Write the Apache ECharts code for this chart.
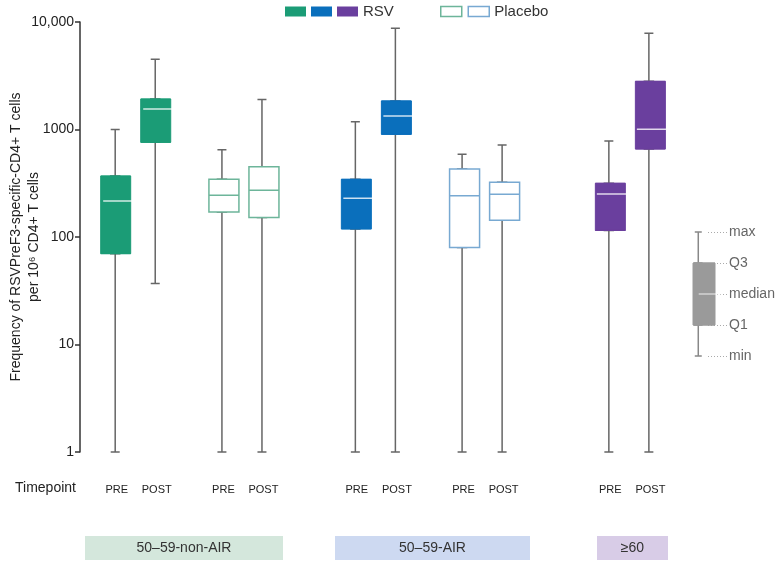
<!DOCTYPE html>
<html>
<head>
<meta charset="utf-8">
<script src="https://cdn.jsdelivr.net/npm/echarts@6/dist/echarts.min.js"></script>
<style>
html,body{margin:0;padding:0;background:#fff;}
#chart{width:779px;height:563px;}
</style>
</head>
<body>
<div id="chart"></div>
<script>
// ---- data ----
const timepointLabels = ['PRE', 'POST', 'PRE', 'POST', 'PRE', 'POST', 'PRE', 'POST', 'PRE', 'POST'];
const slotIndex = [5, 11, 21, 27, 41, 47, 57, 63, 79, 85];
const slotCount = 86;
const yTicks = [1, 10, 100, 1000, 10000];
const groupNames = ['50–59-non-AIR', '50–59-AIR', '≥60'];
const keyLabels = ['min', 'Q1', 'median', 'Q3', 'max'];

// [min, Q1, median, Q3, max]
const nonAirRsvPre = [1, 70, 216, 369, 1000];
const nonAirRsvPost = [37, 760, 1550, 1920, 4500];
const nonAirPlaPre = [1, 171, 244, 344, 649];
const nonAirPlaPost = [1, 152, 272, 451, 1900];
const airRsvPre = [1, 119, 229, 344, 1183];
const airRsvPost = [1, 902, 1336, 1842, 8740];
const airPlaPre = [1, 80, 242, 429, 588];
const airPlaPost = [1, 143, 250, 323, 718];
const oldRsvPre = [1, 115, 251, 316, 782];
const oldRsvPost = [1, 659, 1005, 2806, 7850];
const keyStats = [0, 1, 2, 3, 4];

const allStats = [nonAirRsvPre, nonAirRsvPost, nonAirPlaPre, nonAirPlaPost,
  airRsvPre, airRsvPost, airPlaPre, airPlaPost, oldRsvPre, oldRsvPost];

// ---- styling ----
const C_GREEN = '#1b9c76', C_BLUE = '#0a6fbc', C_PURPLE = '#6a3f9e';
const C_GREEN_L = '#6db59a', C_BLUE_L = '#78a9d2';
const WHISKER = '#666';

const categories = new Array(slotCount).fill('');
slotIndex.forEach((s, i) => { categories[s] = timepointLabels[i]; });

function boxItem(i) { const s = allStats[i]; return [slotIndex[i], s[1], s[1], s[2], s[3], s[3]]; }
function whiskerItem(i) { return [slotIndex[i]].concat(allStats[i]); }
function medianItem(i) { const m = allStats[i][2]; return [slotIndex[i], m, m, m, m, m]; }

const enc = { x: 0, y: [1, 2, 3, 4, 5] };
const boxGroups = [
  { name: 'RSV 50–59-non-AIR', idx: [0, 1], fill: C_GREEN, border: C_GREEN, filled: true },
  { name: 'RSV 50–59-AIR', idx: [4, 5], fill: C_BLUE, border: C_BLUE, filled: true },
  { name: 'RSV ≥60', idx: [8, 9], fill: C_PURPLE, border: C_PURPLE, filled: true },
  { name: 'Placebo 50–59-non-AIR', idx: [2, 3], fill: '#fff', border: C_GREEN_L, filled: false },
  { name: 'Placebo 50–59-AIR', idx: [6, 7], fill: '#fff', border: C_BLUE_L, filled: false }
];

const series = [];
series.push({
  name: 'whiskers', type: 'boxplot', xAxisIndex: 0, yAxisIndex: 0,
  boxWidth: [9, 9], encode: enc,
  itemStyle: { color: '#fff', borderColor: WHISKER, borderWidth: 1.5 },
  data: allStats.map((_, i) => whiskerItem(i)), z: 2, silent: true
});
boxGroups.forEach(g => {
  series.push({
    name: g.name, type: 'boxplot', xAxisIndex: 0, yAxisIndex: 0,
    boxWidth: [30, 30], encode: enc,
    itemStyle: { color: g.fill, borderColor: g.border, borderWidth: g.filled ? 1 : 1.5 },
    data: g.idx.map(boxItem), z: 3, silent: true
  });
});
series.push({
  name: 'medians', type: 'boxplot', xAxisIndex: 0, yAxisIndex: 0,
  boxWidth: [30, 30], encode: enc,
  itemStyle: { color: 'rgba(255,255,255,0.8)', borderColor: 'rgba(255,255,255,0.8)', borderWidth: 1.5 },
  data: [0, 1, 4, 5, 8, 9].map(medianItem), z: 4, silent: true
});
// key
series.push({
  name: 'keyWhisker', type: 'boxplot', xAxisIndex: 1, yAxisIndex: 1,
  boxWidth: [7, 7], encode: enc,
  itemStyle: { color: '#fff', borderColor: '#888', borderWidth: 1.5 },
  data: [[0].concat(keyStats)], z: 2, silent: true
});
series.push({
  name: 'keyBox', type: 'boxplot', xAxisIndex: 1, yAxisIndex: 1,
  boxWidth: [22, 22], encode: enc,
  itemStyle: { color: '#9a9a9a', borderColor: '#9a9a9a', borderWidth: 1 },
  data: [[0, keyStats[1], keyStats[1], keyStats[2], keyStats[3], keyStats[3]]], z: 3, silent: true
});
series.push({
  name: 'keyMedian', type: 'boxplot', xAxisIndex: 1, yAxisIndex: 1,
  boxWidth: [22, 22], encode: enc,
  itemStyle: { color: '#fff', borderColor: 'rgba(255,255,255,0.85)', borderWidth: 1.2 },
  data: [[0, 2, 2, 2, 2, 2]], z: 4, silent: true
});
// dotted key guides (no marks)
series.push({
  name: 'keyGuide', type: 'line', xAxisIndex: 2, yAxisIndex: 2, data: [], silent: true
});

const FONT = 'Liberation Sans, Arial, sans-serif';
const chart = echarts.init(document.getElementById('chart'), null, { renderer: 'canvas' });
chart.setOption({
  animation: false,
  textStyle: { fontFamily: FONT },
  legend: [
    {
      left: 285, top: 4, padding: 0, itemWidth: 21, itemHeight: 10, itemGap: 5, icon: 'rect',
      selectedMode: false,
      textStyle: { fontSize: 15, color: '#333', fontFamily: FONT },
      formatter: n => (n === 'RSV ≥60' ? 'RSV' : ''),
      data: boxGroups.slice(0, 3).map(g => ({ name: g.name, itemStyle: { color: g.fill, borderWidth: 0 } }))
    },
    {
      left: 440, top: 4, padding: 0, itemWidth: 21, itemHeight: 10, itemGap: 5, icon: 'rect',
      selectedMode: false,
      textStyle: { fontSize: 15, color: '#333', fontFamily: FONT },
      formatter: n => (n === 'Placebo 50–59-AIR' ? 'Placebo' : ''),
      data: boxGroups.slice(3).map(g => ({ name: g.name, itemStyle: { color: '#fff', borderColor: g.border, borderWidth: 1.5 } }))
    }
  ],
  grid: [
    { left: 80, top: 22, width: slotCount * 6.671, height: 430, containLabel: false, outerBoundsMode: 'none' },
    { left: 693, top: 232, width: 22, height: 124, containLabel: false, outerBoundsMode: 'none' },
    { left: 708, top: 232, width: 19, height: 124, containLabel: false, outerBoundsMode: 'none' }
  ],
  xAxis: [
    {
      type: 'category', gridIndex: 0, data: categories,
      axisLine: { show: false }, axisTick: { show: false }, splitLine: { show: false },
      axisLabel: { interval: 0, margin: 32, fontSize: 11, color: '#222', fontFamily: FONT }
    },
    { type: 'category', gridIndex: 1, data: ['key'], show: false },
    { type: 'category', gridIndex: 2, data: ['key'], show: false }
  ],
  yAxis: [
    {
      type: 'log', logBase: 10, gridIndex: 0, min: yTicks[0], max: yTicks[yTicks.length - 1],
      axisLine: { show: true, lineStyle: { color: '#333', width: 1.5 } },
      axisTick: { show: true, length: 5, lineStyle: { color: '#333', width: 1.5 } },
      splitLine: { show: false }, minorTick: { show: false },
      axisLabel: {
        fontSize: 14, color: '#222', margin: 6, fontFamily: FONT,
        formatter: v => (v >= 10000 ? v.toLocaleString('en-US') : String(v))
      },
      name: 'Frequency of RSVPreF3-specific-CD4+ T cells\nper 10⁶ CD4+ T cells',
      nameLocation: 'middle', nameRotate: 90, nameGap: 37, nameMoveOverlap: false,
      nameTextStyle: { fontSize: 14, color: '#222', lineHeight: 18, fontFamily: FONT }
    },
    { type: 'value', gridIndex: 1, min: 0, max: 4, show: false },
    {
      type: 'value', gridIndex: 2, min: 0, max: 4, interval: 1, position: 'right',
      axisLine: { show: false }, axisTick: { show: false },
      splitLine: { show: true, lineStyle: { color: '#aaa', type: [1, 2], width: 1 } },
      axisLabel: { margin: 2, fontSize: 14, color: '#666', fontFamily: FONT, formatter: v => keyLabels[v] }
    }
  ],
  graphic: [
    { type: 'text', left: 15, top: 481, style: { text: 'Timepoint', font: '14px ' + FONT, fill: '#222' } },
    { type: 'rect', shape: { x: 85, y: 536, width: 198, height: 24 }, style: { fill: '#d4e7dc' } },
    { type: 'text', x: 184, y: 548, style: { text: groupNames[0], font: '14px ' + FONT, fill: '#333', align: 'center', verticalAlign: 'middle' } },
    { type: 'rect', shape: { x: 335, y: 536, width: 195, height: 24 }, style: { fill: '#cdd9f1' } },
    { type: 'text', x: 432.5, y: 548, style: { text: groupNames[1], font: '14px ' + FONT, fill: '#333', align: 'center', verticalAlign: 'middle' } },
    { type: 'rect', shape: { x: 597, y: 536, width: 71, height: 24 }, style: { fill: '#d8cce7' } },
    { type: 'text', x: 632.5, y: 548, style: { text: groupNames[2], font: '14px ' + FONT, fill: '#333', align: 'center', verticalAlign: 'middle' } }
  ],
  series: series
});
</script>
</body>
</html>
